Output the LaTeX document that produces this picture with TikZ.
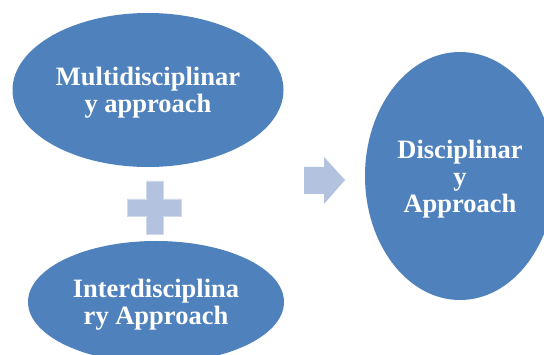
\documentclass[tikz,border=0pt]{standalone}
\usepackage{fontspec}
\setmainfont{Liberation Serif}
\usetikzlibrary{shapes.geometric}
\definecolor{blobblue}{RGB}{79,129,189}
\definecolor{signblue}{RGB}{179,194,222}
\begin{document}
\begin{tikzpicture}[x=1pt,y=-1pt,
  blob/.style={ellipse,fill=blobblue,inner sep=0pt,text=white,align=center,
    text depth=0pt,font=\fontsize{26.5pt}{27pt}\selectfont\bfseries},
  sign/.style={fill=signblue,draw=signblue!60!white,line width=0.6pt}]
  \useasboundingbox (0,0) rectangle (544,355);
  % the two combined approaches on the left
  \node[blob,minimum width=271pt,minimum height=154pt] (multi) at (148,90)
    {Multidisciplinar\\y approach};
  \node[blob,minimum width=256pt,minimum height=122pt] (inter) at (156,302)
    {Interdisciplina\\ry Approach};
  % the result on the right
  \node[blob,minimum width=190pt,minimum height=248pt] (disc) at (460,176)
    {Disciplinar\\y\\Approach};
  % plus sign between the left ellipses
  \path[sign] (146,181) -- (163,181) -- (163,199) -- (181,199) -- (181,216)
    -- (163,216) -- (163,234) -- (146,234) -- (146,216) -- (127,216)
    -- (127,199) -- (146,199) -- cycle;
  % block arrow pointing to the result
  \path[sign,draw=none] (304,167) -- (324,167) -- (324,157) -- (345,180)
    -- (324,204) -- (324,194) -- (304,194) -- cycle;
\end{tikzpicture}
\end{document}
